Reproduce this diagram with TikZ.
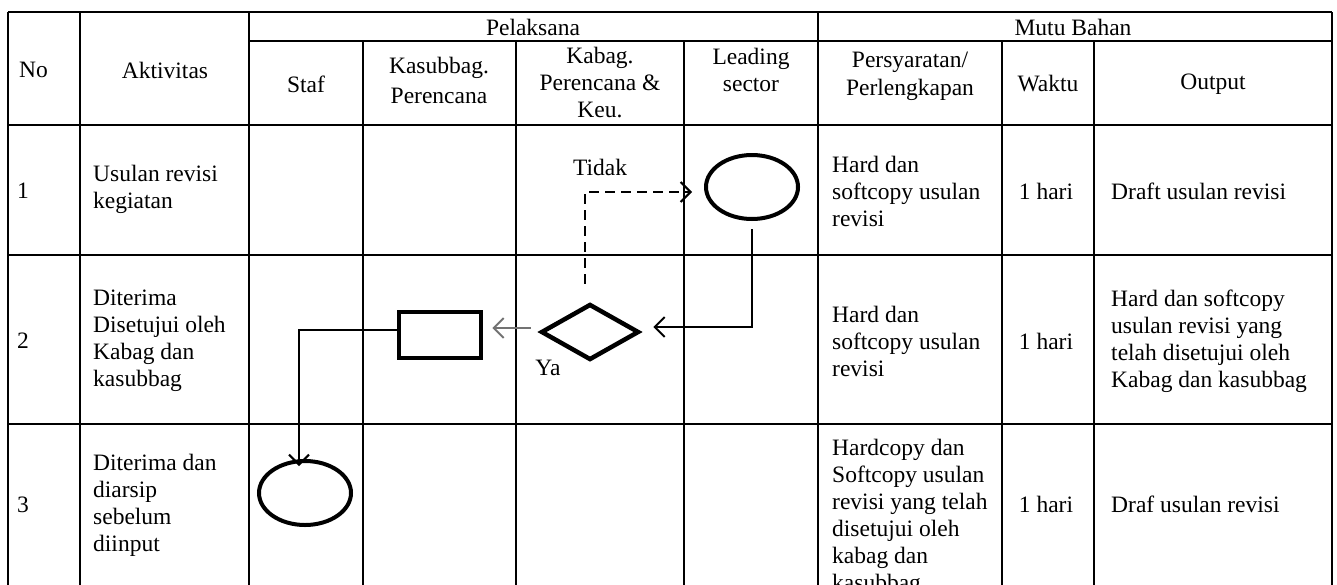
\documentclass[tikz,border=0pt]{standalone}
\usepackage{fontspec}
\setmainfont{Liberation Serif}
\usetikzlibrary{arrows.meta,shapes.geometric}
\begin{document}
\begin{tikzpicture}[x=1pt,y=-1pt,
  grid/.style={line width=2pt},
  txt/.style={font=\fontsize{23.5}{27}\selectfont, inner sep=0pt, align=left},
  ctxt/.style={font=\fontsize{23.5}{27}\selectfont, inner sep=0pt, align=center},
  term/.style={ellipse, draw, line width=4pt, minimum width=92pt, minimum height=64pt, inner sep=0pt},
  decision/.style={diamond, draw, line width=4.5pt, aspect=1.72, minimum width=98pt, minimum height=56pt, inner sep=0pt},
  proc/.style={rectangle, draw, line width=4.5pt, minimum width=82pt, minimum height=46pt, inner sep=0pt},
  flow/.style={line width=2pt, -{Straight Barb[length=10pt,width=20pt]}}
]
\useasboundingbox (0,0) rectangle (1337,584);
% table grid
\draw[grid] (8,12) -- (1332,12);
\draw[grid] (249,41) -- (1332,41);
\draw[grid] (8,125) -- (1332,125);
\draw[grid] (8,255) -- (1332,255);
\draw[grid] (8,424) -- (1332,424);
\foreach \x in {8,80,249,818,1332} {\draw[grid] (\x,12) -- (\x,590);}
\foreach \x in {363,516,684,1002,1094} {\draw[grid] (\x,41) -- (\x,590);}
% header
\node[ctxt] (hpel) at (533,27) {Pelaksana};
\node[ctxt] (hmutu) at (1073,27) {Mutu Bahan};
\node[txt,anchor=west] (hno) at (19,70) {No};
\node[ctxt] (hakt) at (165,70) {Aktivitas};
\node[ctxt] (hstaf) at (306,84) {Staf};
\node[ctxt,font=\fontsize{23.5}{30}\selectfont] (hkas) at (439,80) {Kasubbag.\\Perencana};
\node[ctxt] (hkab) at (600,83) {Kabag.\\Perencana \&\\Keu.};
\node[ctxt] (hlead) at (751,70) {Leading\\sector};
\node[ctxt,font=\fontsize{23.5}{28}\selectfont] (hper) at (910,76) {Persyaratan/\\Perlengkapan};
\node[ctxt] (hwak) at (1048,84) {Waktu};
\node[ctxt] (hout) at (1213,84) {Output};
% row 1
\node[txt,anchor=west] (n1) at (17,191) {1};
\node[txt,anchor=west] (a1) at (93,189) {Usulan revisi\\kegiatan};
\node[txt,anchor=west] (p1) at (832,191) {Hard dan\\softcopy usulan\\revisi};
\node[ctxt] (w1) at (1046,191) {1 hari};
\node[txt,anchor=west] (o1) at (1111,191) {Draft usulan revisi};
% row 2
\node[txt,anchor=west] (n2) at (17,341) {2};
\node[txt,anchor=west] (a2) at (93,341) {Diterima\\Disetujui oleh\\Kabag dan\\kasubbag};
\node[txt,anchor=west] (p2) at (832,341) {Hard dan\\softcopy usulan\\revisi};
\node[ctxt] (w2) at (1046,341) {1 hari};
\node[txt,anchor=west] (o2) at (1111,341) {Hard dan softcopy\\usulan revisi yang\\telah disetujui oleh\\Kabag dan kasubbag};
% row 3
\node[txt,anchor=west] (n3) at (17,505) {3};
\node[txt,anchor=west] (a3) at (93,505) {Diterima dan\\diarsip\\sebelum\\diinput};
\node[txt,anchor=west] (p3) at (832,517) {Hardcopy dan\\Softcopy usulan\\revisi yang telah\\disetujui oleh\\kabag dan\\kasubbag};
\node[ctxt] (w3) at (1046,504) {1 hari};
\node[txt,anchor=west] (o3) at (1111,504) {Draf usulan revisi};
% flow shapes
\node[term] (e1) at (752,187) {};
\node[decision] (d) at (590,332) {};
\node[proc] (r) at (440,335) {};
\node[term] (e2) at (305,493) {};
\node[ctxt] (tidak) at (600,167) {Tidak};
\node[ctxt] (ya) at (548,368) {Ya};
% connectors
\coordinate (gs) at ([xshift=-8pt,yshift=4pt]d.west);
\draw[flow, dash pattern=on 10pt off 6pt] ([xshift=-5pt,yshift=18pt]d.north) |- ([xshift=-12pt,yshift=-5pt]e1.west);
\draw[flow] ([yshift=-8pt]e1.south) |- ([xshift=12pt,yshift=5pt]d.east);
\draw[flow, draw=black!55] (gs) -- ([xshift=9pt]r.east |- gs);
\draw[flow] ([yshift=5pt]r.west) -| ([xshift=-6pt,yshift=-7pt]e2.north);
\end{tikzpicture}
\end{document}
